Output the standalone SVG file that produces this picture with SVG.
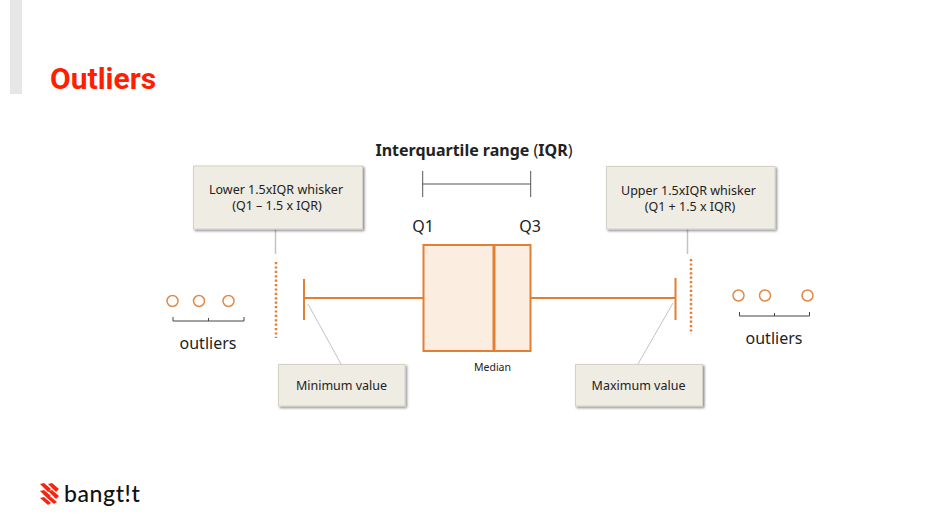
<svg xmlns="http://www.w3.org/2000/svg" width="942" height="523" viewBox="0 0 942 523">
<defs>
<filter id="sh" x="-10%" y="-10%" width="125%" height="130%"><feDropShadow dx="1.5" dy="1.5" stdDeviation="1.2" flood-color="#000" flood-opacity="0.45"/></filter>
</defs>
<style>
text{font-family:"Noto Sans","Open Sans","Liberation Sans",sans-serif;fill:#222;text-anchor:middle}
.box{fill:#eeece3;stroke:#d4d2c8;stroke-width:1;filter:url(#sh)}
.lbl{font-size:12.5px}
.big{font-size:16px}
.or{stroke:#e37f33;fill:none}
.lead{stroke:#c4c4c4;fill:none}
.brk{stroke:#444;stroke-width:1;fill:none}
.dot{stroke:#e37f33;stroke-width:2.5;stroke-dasharray:2.2 2.2;fill:none}
.cir{fill:#fff;stroke:#e38a45;stroke-width:1.5}
</style>
<rect width="942" height="523" fill="#fff"/>
<rect x="10" y="0" width="12" height="94" fill="#e6e7e8"/>
<text x="50" y="89" style="font-family:Roboto,'Liberation Sans',sans-serif;font-size:30px;font-weight:700;fill:#ff1f00;text-anchor:start">Outliers</text>

<g id="connectors">
<path class="lead" stroke-width="1.5" d="M275.500 229V254M687.500 229V254"/>
<path class="lead" d="M308 304L341 364M673 303L638 364"/>
<path class="or" stroke-width="2" d="M304 298H423M531 298H675"/>
<path class="or" stroke-width="2" d="M304 279V320M675.500 278V320"/>
<path class="dot" d="M276 262V338M691 259V334"/>
<path stroke="#555" stroke-width="1" fill="none" d="M422.700 171V197M530.700 171V197M422.700 184H530.700"/>
<path class="brk" d="M173 317V321H244V317M208.500 321V318M739.500 312V316H809.500V312M774.500 316V313"/>
</g>

<text x="474" y="156" style="font-size:16px;font-weight:700"><tspan>Interquartile range </tspan><tspan font-weight="400">(</tspan><tspan>IQR</tspan><tspan font-weight="400">)</tspan></text>
<text x="423" y="232" class="big">Q1</text>
<text x="530" y="232" class="big">Q3</text>

<g id="iqr-box">
<rect x="423.500" y="245" width="107" height="106" fill="#fbeee0" stroke="#e37f33" stroke-width="2"/>
<line x1="494" y1="245" x2="494" y2="351" stroke="#e37f33" stroke-width="3"/>
</g>
<text id="median" x="492.500" y="371" style="font-size:10.500px">Median</text>

<g id="lower-whisker"><rect class="box" x="193.500" y="166" width="169" height="63"/>
<text x="276" y="194" class="lbl">Lower 1.5xIQR whisker</text><text x="277" y="210" class="lbl">(Q1 – 1.5 x IQR)</text></g>
<g id="upper-whisker"><rect class="box" x="606.500" y="166.500" width="168.500" height="62.500"/>
<text x="688.500" y="195" class="lbl">Upper 1.5xIQR whisker</text><text x="690" y="211" class="lbl">(Q1 + 1.5 x IQR)</text></g>
<g id="minimum"><rect class="box" x="278.500" y="364.500" width="126.500" height="41.500"/>
<text x="341.500" y="390" class="lbl">Minimum value</text></g>
<g id="maximum"><rect class="box" x="575.500" y="364.500" width="127" height="41.500"/>
<text x="638.500" y="390" class="lbl">Maximum value</text></g>

<g id="outliers-left">
<circle class="cir" cx="172.500" cy="301" r="5.500"/><circle class="cir" cx="199" cy="301" r="5.500"/><circle class="cir" cx="228.500" cy="301" r="5.500"/>
<text x="208" y="349" class="big">outliers</text>
</g>
<g id="outliers-right">
<circle class="cir" cx="738.500" cy="295.500" r="5.500"/><circle class="cir" cx="765" cy="295.500" r="5.500"/><circle class="cir" cx="807.500" cy="295.500" r="5.500"/>
<text x="774" y="344" class="big">outliers</text>
</g>

<g id="logo">
<path fill="#f5260f" d="M40 484l4-1 7 6-3 3zM48 484l4-1 7 6-3 3zM40 491l4-1 7 6-3 3zM48 491l4-1 7 6-3 3zM40 498l4-1 7 6-3 2zM47 498l4-1 6 5-3 2z"/>
<text x="64" y="502" style="font-family:Lato,'Noto Sans',sans-serif;font-size:23px;font-weight:500;fill:#111;text-anchor:start;letter-spacing:0.600px">bangt!t</text>
</g>
</svg>
